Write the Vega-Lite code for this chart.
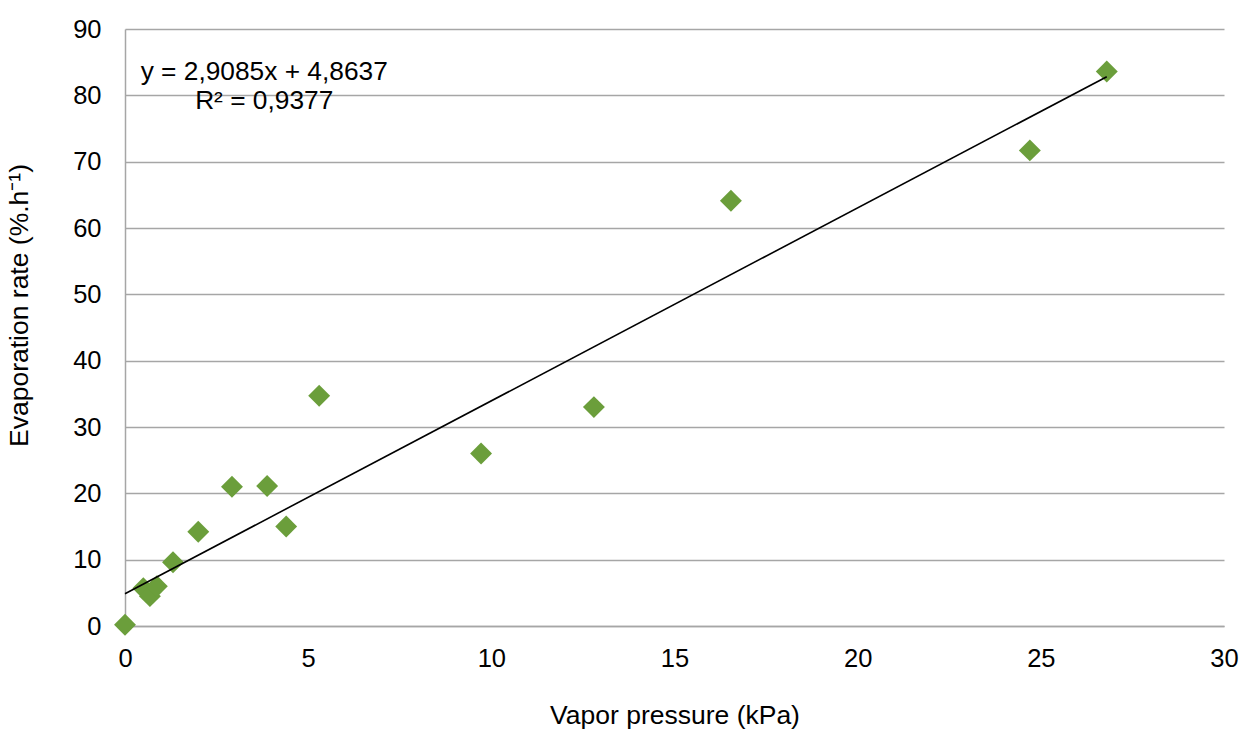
{
  "$schema": "https://vega.github.io/schema/vega-lite/v6.json",
  "width": 1099,
  "height": 597,
  "autosize": {"type": "none"},
  "padding": {"left": 125, "top": 29, "right": 18, "bottom": 103},
  "background": "white",
  "config": {
    "view": {"stroke": null},
    "font": "Liberation Sans",
    "axis": {"labelFont": "Liberation Sans", "titleFont": "Liberation Sans", "labelFontSize": 25.5, "titleFontSize": 26.5, "labelColor": "#000000", "titleColor": "#000000", "titleFontWeight": "normal", "ticks": false, "labelFlush": false, "labelOverlap": false, "domainColor": "#a6a6a6", "domainWidth": 1.5, "gridColor": "#a6a6a6", "gridWidth": 1.5}
  },
  "datasets": {
    "points": [
      {"vp": 0.0, "rate": 0.2},
      {"vp": 0.5, "rate": 5.7},
      {"vp": 0.68, "rate": 4.5},
      {"vp": 0.87, "rate": 6.0},
      {"vp": 1.31, "rate": 9.6},
      {"vp": 2.0, "rate": 14.2},
      {"vp": 2.92, "rate": 21.0},
      {"vp": 3.88, "rate": 21.1},
      {"vp": 4.4, "rate": 15.0},
      {"vp": 5.3, "rate": 34.7},
      {"vp": 9.72, "rate": 26.0},
      {"vp": 12.8, "rate": 33.0},
      {"vp": 16.54, "rate": 64.1},
      {"vp": 24.7, "rate": 71.7},
      {"vp": 26.8, "rate": 83.6}
    ],
    "trend": [
      {"vp": 0.0, "rate": 4.8637},
      {"vp": 26.8, "rate": 82.81}
    ],
    "labels": [
      {"vp": 3.8, "rate": 83.5, "text": "y = 2,9085x + 4,8637"},
      {"vp": 3.8, "rate": 79.1, "text": "R² = 0,9377"}
    ]
  },
  "layer": [
    {
      "data": {"name": "points"},
      "mark": {"type": "point", "shape": "diamond", "filled": true, "size": 480, "color": "#6b9e3b", "opacity": 1},
      "encoding": {
        "x": {"field": "vp", "type": "quantitative", "scale": {"domain": [0, 30], "nice": false}, "axis": {"title": "Vapor pressure (kPa)", "values": [0, 5, 10, 15, 20, 25, 30], "grid": false, "labelPadding": 20, "titlePadding": 31}},
        "y": {"field": "rate", "type": "quantitative", "scale": {"domain": [0, 90], "nice": false}, "axis": {"title": "Evaporation rate (%.h⁻¹)", "values": [0, 10, 20, 30, 40, 50, 60, 70, 80, 90], "grid": true, "labelPadding": 24, "titlePadding": 39, "titleY": 276, "titleAlign": "center"}}
      }
    },
    {
      "data": {"name": "trend"},
      "mark": {"type": "line", "color": "#000000", "strokeWidth": 1.6},
      "encoding": {
        "x": {"field": "vp", "type": "quantitative"},
        "y": {"field": "rate", "type": "quantitative"}
      }
    },
    {
      "data": {"name": "labels"},
      "mark": {"type": "text", "fontSize": 26.3, "align": "center", "baseline": "middle", "color": "#000000", "font": "Liberation Sans"},
      "encoding": {
        "x": {"field": "vp", "type": "quantitative"},
        "y": {"field": "rate", "type": "quantitative"},
        "text": {"field": "text"}
      }
    }
  ]
}
